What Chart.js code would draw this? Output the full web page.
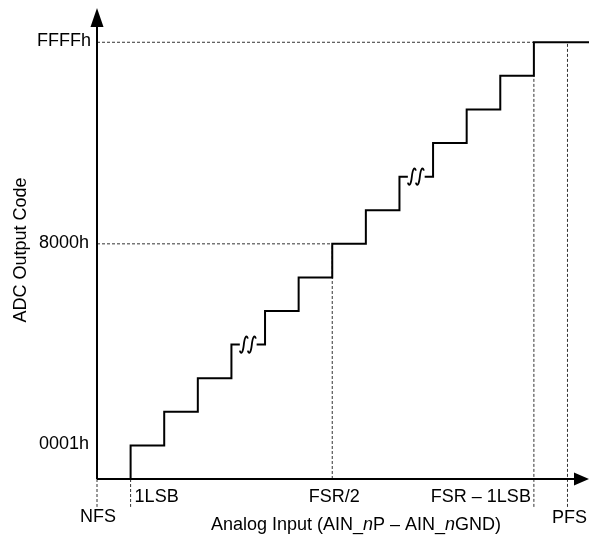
<!DOCTYPE html>
<html lang="en">
<head>
    <meta charset="UTF-8">
    <title>ADC Transfer Function</title>
    <script src="https://cdnjs.cloudflare.com/ajax/libs/Chart.js/4.4.1/chart.umd.min.js"></script>
    <style>
        html, body { margin: 0; padding: 0; background: #fff; }
        #wrap { width: 589px; height: 535px; }
    </style>
</head>
<body>
    <div id="wrap"><canvas id="transferChart" width="589" height="535"></canvas></div>

    <script>
        // input in LSB steps from NFS, output in code steps
        const transitionInputs = [1, 2, 3, 4, 5, 6, 7, 8, 9, 10, 11, 12, 13];
        const outputCodes = [1, 2, 3, 4, 5, 6, 7, 8, 9, 10, 11, 12, 13];
        const breakInputs = [4.5, 9.5];
        const breakCodes = [4, 9];
        const inputMax = 14.64;
        const codeMax = 14.02;

        const yTickValues = [1, 7, 13];
        const yTickLabels = ['0001h', '8000h', 'FFFFh'];
        const xTickValues = [0, 1, 7, 13, 14];
        const xTickLabels = ['NFS', '1LSB', 'FSR/2', 'FSR – 1LSB', 'PFS'];

        // dashed guides: [x1, y1, x2, y2]
        const guideLines = [
            [0, 13, 13, 13],
            [0, 7, 7, 7],
            [7, 0, 7, 7],
            [13, -0.83, 13, 12],
            [14, -0.83, 14, 13],
            [0, 0, 0, -0.83],
            [1, 0, 1, -0.83]
        ];

        const FONT = '18px "Liberation Sans", Arial, sans-serif';
        const FONT_IT = 'italic 18px "Liberation Sans", Arial, sans-serif';
        const gap = 0.25;

        // build the staircase from the transitions
        const stairs = [];
        transitionInputs.forEach((x, i) => {
            const code = outputCodes[i];
            stairs.push({x: x, y: i === 0 ? 0 : outputCodes[i - 1]}, {x: x, y: code});
            const nextX = i + 1 < transitionInputs.length ? transitionInputs[i + 1] : inputMax;
            const b = breakInputs.findIndex((bx, j) => breakCodes[j] === code && bx > x && bx < nextX);
            if (b >= 0) {
                stairs.push({x: breakInputs[b] - gap, y: code},
                            {x: breakInputs[b], y: null},
                            {x: breakInputs[b] + gap, y: code});
            }
        });
        stairs.push({x: inputMax, y: outputCodes[outputCodes.length - 1]});

        const solid = (data, w) => ({
            data: data, borderColor: '#000', borderWidth: w, pointRadius: 0,
            fill: false, tension: 0, spanGaps: false, clip: false
        });

        const datasets = [
            solid(stairs, 2),
            solid([{x: 0, y: 0}, {x: inputMax - 0.2, y: 0}], 2),
            solid([{x: 0, y: 0}, {x: 0, y: codeMax - 0.3}], 2)
        ];
        guideLines.forEach(g => {
            datasets.push({
                data: [{x: g[0], y: g[1]}, {x: g[2], y: g[3]}],
                borderColor: '#333', borderWidth: 1, borderDash: [3, 2],
                pointRadius: 0, fill: false, clip: false
            });
        });

        const decorations = {
            id: 'decorations',
            afterDatasetsDraw(chart) {
                const ctx = chart.ctx;
                const xs = chart.scales.x, ys = chart.scales.y;
                const x0 = xs.getPixelForValue(0), y0 = ys.getPixelForValue(0);
                const xEnd = xs.getPixelForValue(inputMax), yEnd = ys.getPixelForValue(codeMax);
                ctx.save();
                ctx.fillStyle = '#000';
                ctx.strokeStyle = '#000';

                // arrowheads
                ctx.beginPath();
                ctx.moveTo(x0, yEnd);
                ctx.lineTo(x0 - 6.5, yEnd + 19);
                ctx.lineTo(x0 + 6.5, yEnd + 19);
                ctx.closePath();
                ctx.fill();
                ctx.beginPath();
                ctx.moveTo(xEnd, y0);
                ctx.lineTo(xEnd - 15, y0 - 6.5);
                ctx.lineTo(xEnd - 15, y0 + 6.5);
                ctx.closePath();
                ctx.fill();

                // break marks
                ctx.lineWidth = 1.8;
                breakInputs.forEach((bx, i) => {
                    const left = xs.getPixelForValue(bx - gap);
                    const y = ys.getPixelForValue(breakCodes[i]);
                    for (let k = 0; k < 2; k++) {
                        const sx = left + k * 8;
                        ctx.beginPath();
                        ctx.moveTo(sx, y + 6);
                        ctx.bezierCurveTo(sx + 1, y + 10, sx + 3, y + 9, sx + 4, y);
                        ctx.bezierCurveTo(sx + 5, y - 9, sx + 7, y - 10, sx + 8, y - 6);
                        ctx.stroke();
                    }
                });

                ctx.font = FONT;
                // y labels
                ctx.textAlign = 'center';
                ctx.textBaseline = 'middle';
                yTickValues.forEach((v, i) => {
                    ctx.fillText(yTickLabels[i], 64, ys.getPixelForValue(v) - 1);
                });

                // x labels
                ctx.textBaseline = 'alphabetic';
                const xStyle = [
                    {align: 'center', dx: 1, row: 43},
                    {align: 'left', dx: 4, row: 23},
                    {align: 'center', dx: 2, row: 23},
                    {align: 'right', dx: -3, row: 23},
                    {align: 'center', dx: 2, row: 44}
                ];
                xTickValues.forEach((v, i) => {
                    ctx.textAlign = xStyle[i].align;
                    ctx.fillText(xTickLabels[i], xs.getPixelForValue(v) + xStyle[i].dx, y0 + xStyle[i].row);
                });

                // x title with italic n
                const parts = [
                    ['Analog Input (AIN_', FONT], ['n', FONT_IT], ['P – AIN_', FONT],
                    ['n', FONT_IT], ['GND)', FONT]
                ];
                let total = 0;
                parts.forEach(p => { ctx.font = p[1]; total += ctx.measureText(p[0]).width; });
                let tx = 356 - total / 2;
                ctx.textAlign = 'left';
                parts.forEach(p => {
                    ctx.font = p[1];
                    ctx.fillText(p[0], tx, 530);
                    tx += ctx.measureText(p[0]).width;
                });

                // y title
                ctx.font = FONT;
                ctx.translate(21, 250);
                ctx.rotate(-Math.PI / 2);
                ctx.textAlign = 'center';
                ctx.textBaseline = 'middle';
                ctx.fillText('ADC Output Code', 0, 0);
                ctx.restore();
            }
        };

        new Chart(document.getElementById('transferChart').getContext('2d'), {
            type: 'line',
            data: { datasets: datasets },
            options: {
                responsive: false,
                animation: false,
                layout: { padding: { left: 97, right: 0, top: 8, bottom: 56 } },
                plugins: { legend: { display: false }, tooltip: { enabled: false } },
                scales: {
                    x: { type: 'linear', min: 0, max: inputMax, display: false },
                    y: { type: 'linear', min: 0, max: codeMax, display: false }
                }
            },
            plugins: [decorations]
        });
    </script>
</body>
</html>
